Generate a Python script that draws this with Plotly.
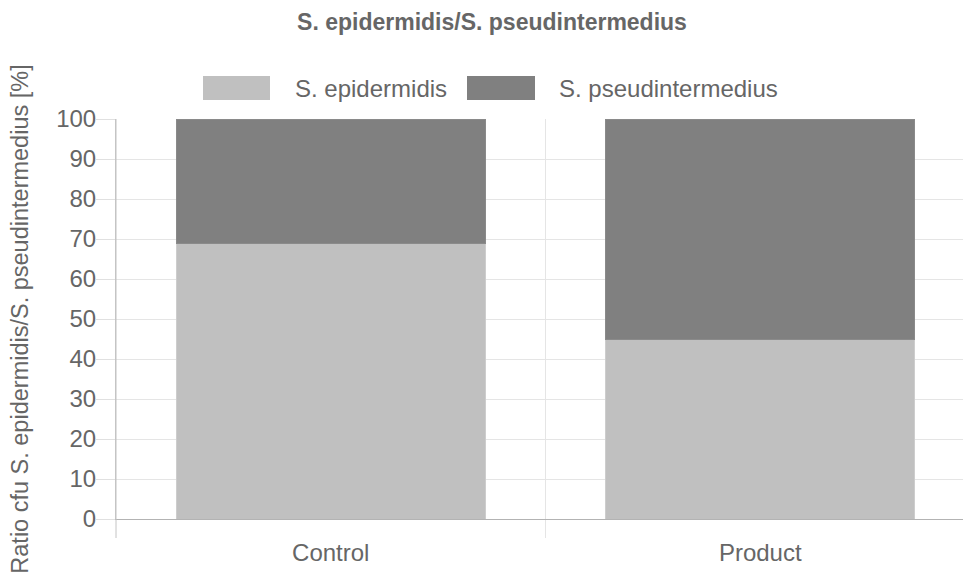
import plotly.graph_objects as go

categories = ["Control", "Product"]
epidermidis = [69, 45]
pseudintermedius = [31, 55]
series_names = ["S. epidermidis", "S. pseudintermedius"]
series_colors = ["#c0c0c0", "#808080"]
border_colors = ["#cdcdcd", "#8a8a8a"]

W, H = 963, 577
L, R, T, B = 116, 0, 119, 58
pw, ph = W - L - R, H - T - B

def px_x(px):
    return (px - L) / pw

def px_y(py):
    return (H - B - py) / ph

FONT = "Liberation Sans, Arial, Helvetica, sans-serif"
TXT = "#666666"

fig = go.Figure()
for name, vals, col, bc in zip(series_names, [epidermidis, pseudintermedius], series_colors, border_colors):
    fig.add_trace(go.Bar(x=categories, y=vals, name=name, width=0.72,
                         marker=dict(color=col, line=dict(color=bc, width=1)),
                         showlegend=False))

shapes = [
    # left axis extension below plot
    dict(type="line", xref="paper", yref="paper", x0=0, x1=0, y0=px_y(538), y1=1,
         line=dict(color="#c4c4c4", width=1), layer="above"),
    # category boundary grid line
    dict(type="line", xref="x", yref="paper", x0=0.5, x1=0.5, y0=px_y(538), y1=1,
         line=dict(color="#e5e5e5", width=1), layer="below"),
]
annotations = []
# custom legend
legend_items = [(203, 270, 293), (467, 535, 557)]
for (bx0, bx1, tx), name, col in zip(legend_items, series_names, series_colors):
    shapes.append(dict(type="rect", xref="paper", yref="paper",
                       x0=px_x(bx0), x1=px_x(bx1), y0=px_y(100), y1=px_y(76),
                       fillcolor=col, line=dict(width=0)))
    annotations.append(dict(x=px_x(tx), y=px_y(88), xref="paper", yref="paper",
                            text=name, showarrow=False, xanchor="left", yanchor="middle",
                            font=dict(family=FONT, size=24, color=TXT)))

fig.update_layout(
    width=W, height=H,
    margin=dict(l=L, r=R, t=T, b=B, pad=0),
    paper_bgcolor="white", plot_bgcolor="white",
    barmode="stack",
    title=dict(text="S. epidermidis/S. pseudintermedius", x=492 / W, xref="container",
               xanchor="center", y=1 - 22 / H, yref="container", yanchor="middle",
               font=dict(family=FONT, size=23, color=TXT, weight="bold")),
    font=dict(family=FONT, size=24, color=TXT),
    shapes=shapes,
    annotations=annotations,
    xaxis=dict(range=[-0.5, 0.5 + (W - L) / 429.5 - 1.0], showgrid=False,
               showline=True, linecolor="#b3b3b3", linewidth=1,
               ticks="outside", ticklen=12, tickcolor="rgba(0,0,0,0)",
               tickfont=dict(family=FONT, size=24, color=TXT), zeroline=False),
    yaxis=dict(range=[0, 100], dtick=10, showgrid=True, gridcolor="#e5e5e5",
               showline=True, linecolor="#c4c4c4", linewidth=1, zeroline=False,
               ticks="outside", ticklen=19, tickcolor="#e0e0e0",
               ticklabelstandoff=-5,
               tickfont=dict(family=FONT, size=24, color=TXT),
               title=dict(text="Ratio cfu S. epidermidis/S. pseudintermedius [%]",
                          font=dict(family=FONT, size=23.5, color=TXT), standoff=20)),
)

fig.write_html("out.html", config={"displayModeBar": False},
               post_script="document.body.style.margin='0';document.body.style.padding='0';document.body.style.overflow='hidden';")
